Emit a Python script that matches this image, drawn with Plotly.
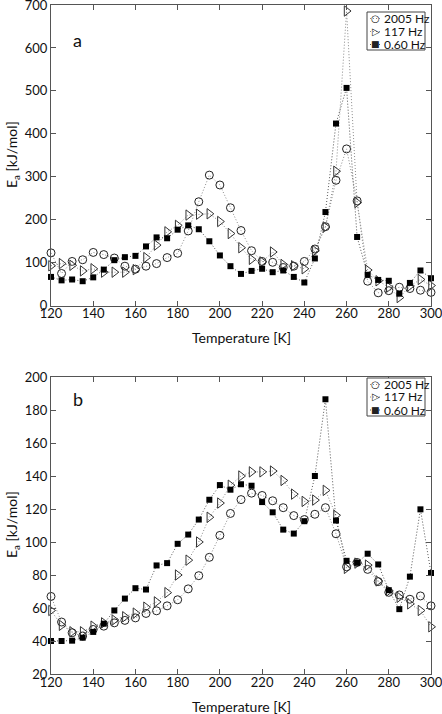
import plotly.graph_objects as go

temps = list(range(120, 305, 5))

# Panel a
circ_a = [123, 75, 103, 107, 124, 119, 111, 92, 85, 92, 98, 112, 122, 174, 242, 304, 281, 228, 175,
          128, 103, 101, 89, 92, 103, 132, 184, 292, 365, 244, 57, 30, 35, 43, 40, 36, 31]
tri_a = [93, 98, 94, 81, 86, 78, 78, 78, 84, 112, 141, 172, 187, 211, 213, 214, 196, 168, 135,
         108, 102, 125, 96, 93, 86, 128, 183, 313, 686, 240, 83, 58, 43, 19, 46, 61, 47]
sq_a = [67, 59, 61, 57, 66, 84, 106, 113, 116, 138, 159, 157, 177, 187, 178, 150, 117, 92, 74,
        81, 86, 78, 82, 67, 54, 110, 218, 424, 507, 160, 72, 60, 58, 28, 53, 82, 64]

# Panel b
circ_b = [67, 51.5, 45, 43, 47, 49, 51, 52.5, 54, 56.7, 58.3, 61.3, 65, 71.6, 79.6, 90.7, 104, 117.3, 125.7,
          129.6, 128.2, 125, 120.8, 116, 113.6, 116.8, 120.8, 105, 85, 87.6, 83.4, 76, 69.5, 67.9, 65.3, 67.3, 61.3]
tri_b = [58.5, 49.5, 45.6, 45.6, 49, 51, 52.7, 54.7, 56.9, 60.5, 63.7, 69.3, 80, 89, 100, 115, 123.6, 134.4, 140,
         142.5, 142.5, 143, 137.3, 129, 124.6, 125.4, 131.3, 116.2, 84, 87.2, 86, 76.4, 70.4, 66.5, 62.5, 58.5, 48.6]
sq_b = [40, 40, 40.2, 42, 45.5, 50.5, 58.5, 65.7, 72, 71.2, 85.8, 87.2, 98.9, 104.5, 113.6, 125.6, 134.5, 131.7, 135,
        134.1, 124.2, 118, 107.5, 105.1, 112.6, 140, 186.5, 113, 88.6, 87.4, 92.9, 86.4, 70.8, 59.3, 79, 119.8, 81.2]

series_names = ["2005 Hz", "117 Hz", "0.60 Hz"]
legend_glyphs = ["○", "▷", "■"]
x_ticks = list(range(120, 320, 20))
ya_ticks = list(range(0, 800, 100))
yb_ticks = list(range(20, 220, 20))

FONT = "Lato"
W, H = 442, 714
ML, MR, MT, MB = 51, 11, 5, 40
PW, PH = W - ML - MR, H - MT - MB


def px(x):
    return (x - ML) / PW


def py(y):
    return 1 - (y - MT) / PH


styles = [
    dict(symbol="circle-open", size=8, color="#222", line=dict(width=1, color="#222")),
    dict(symbol="triangle-right-open", size=9, color="#333", line=dict(width=1, color="#333")),
    dict(symbol="square", size=6, color="#000", line=dict(width=0)),
]
line_colors = ["#8a8a8a", "#8a8a8a", "#555"]

fig = go.Figure()
for vals_set, xa, ya in [((circ_a, tri_a, sq_a), "x", "y"),
                         ((circ_b, tri_b, sq_b), "x2", "y2")]:
    for name, vals, st, lc in zip(series_names, vals_set, styles, line_colors):
        fig.add_trace(go.Scatter(
            x=temps, y=vals, name=name, mode="lines+markers",
            xaxis=xa, yaxis=ya, cliponaxis=False, showlegend=False,
            line=dict(color=lc, width=1, dash="1px,2px"),
            marker=st,
        ))

axis_common = dict(
    showline=True, linecolor="#555", linewidth=1, mirror="ticks",
    ticks="inside", ticklen=5, tickcolor="#555", showgrid=False, zeroline=False,
    automargin=False, ticklabeloverflow="allow",
    tickfont=dict(family=FONT, size=13, color="#111"),
)
x_common = dict(axis_common, ticklabelstandoff=-4)

annotations = []
shapes = []

# axis titles
for ty in (337, 706):
    annotations.append(dict(text="Temperature [K]", x=px(241), y=py(ty), xref="paper", yref="paper",
                            showarrow=False, xanchor="center", yanchor="middle",
                            font=dict(family=FONT, size=14, color="#111")))
for ty in (155, 525):
    annotations.append(dict(text="E<sub>a</sub> [kJ/mol]", x=px(12), y=py(ty), xref="paper", yref="paper",
                            showarrow=False, xanchor="center", yanchor="middle", textangle=-90,
                            font=dict(family=FONT, size=14, color="#111")))

# panel labels
annotations.append(dict(text="a", x=px(71), y=py(27), xref="paper", yref="paper", showarrow=False,
                        font=dict(family=FONT, size=18, color="#111")))
annotations.append(dict(text="b", x=px(71), y=py(399), xref="paper", yref="paper", showarrow=False,
                        font=dict(family=FONT, size=18, color="#111")))

# manual legends (box, dotted stroke, glyph, label)
for (bx0, by0, bx1, by1), rows in [((367, 12, 425, 50), (18.5, 31.5, 44.5)),
                                   ((367, 378, 425, 416), (384.5, 397, 410))]:
    shapes.append(dict(type="rect", xref="paper", yref="paper",
                       x0=px(bx0), x1=px(bx1), y0=py(by1), y1=py(by0),
                       line=dict(color="#444", width=1), fillcolor="white", layer="above"))
    for name, glyph, ry, lc in zip(series_names, legend_glyphs, rows, line_colors):
        shapes.append(dict(type="line", xref="paper", yref="paper",
                           x0=px(370), x1=px(381), y0=py(ry), y1=py(ry),
                           line=dict(color=lc, width=1, dash="1px,2px"), layer="above"))
        annotations.append(dict(text=glyph, x=px(375.5), y=py(ry), xref="paper", yref="paper",
                                showarrow=False, xanchor="center", yanchor="middle",
                                font=dict(family="DejaVu Sans", size=9 if glyph == "■" else 10, color="#222")))
        annotations.append(dict(text=name, x=px(381.5), y=py(ry), xref="paper", yref="paper",
                                showarrow=False, xanchor="left", yanchor="middle",
                                font=dict(family=FONT, size=12, color="#111")))

fig.update_layout(
    width=W, height=H,
    paper_bgcolor="white", plot_bgcolor="white",
    margin=dict(l=ML, r=MR, t=MT, b=MB, autoexpand=False),
    font=dict(family=FONT, color="#111"),
    showlegend=False,
    xaxis=dict(domain=[0, 1], anchor="y", range=[120, 300], tickvals=x_ticks, **x_common),
    yaxis=dict(domain=[py(305.7), 1], anchor="x", range=[0, 700], tickvals=ya_ticks, **axis_common),
    xaxis2=dict(domain=[0, 1], anchor="y2", range=[120, 300], tickvals=x_ticks, **x_common),
    yaxis2=dict(domain=[0, py(377)], anchor="x2", range=[20, 200], tickvals=yb_ticks, **axis_common),
    annotations=annotations,
    shapes=shapes,
)

fig.write_html("out.html", config={"displayModeBar": False},
               post_script="document.body.style.margin='0';document.body.style.overflow='hidden';")
